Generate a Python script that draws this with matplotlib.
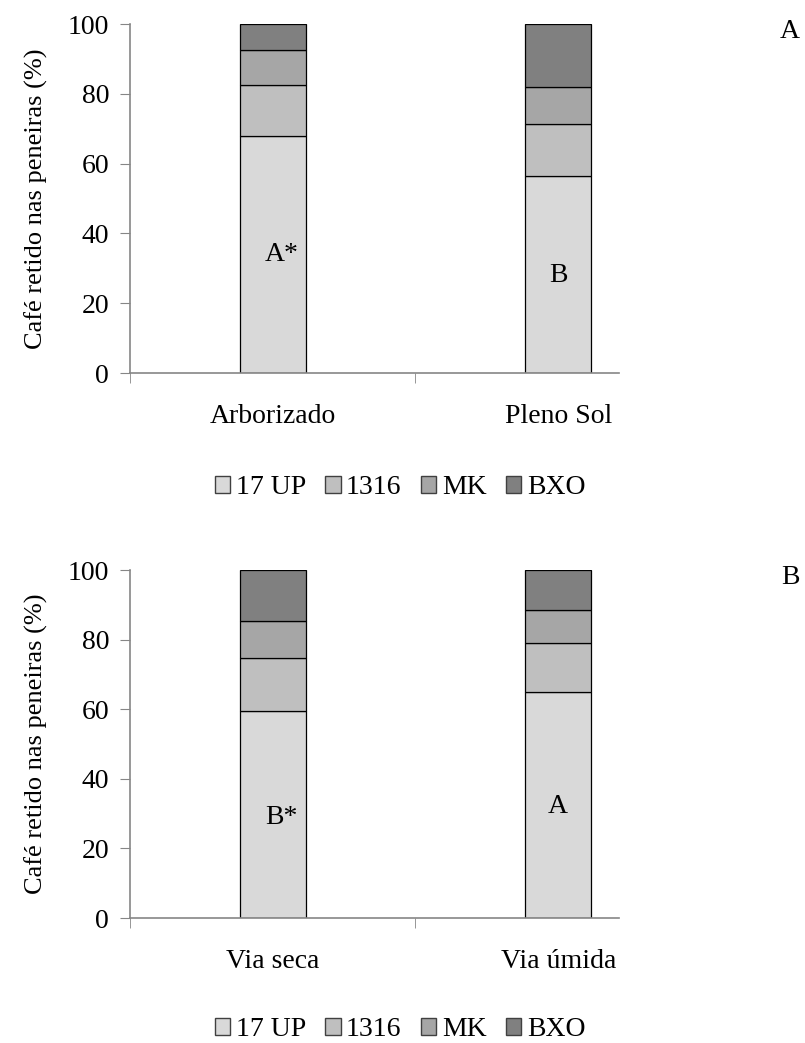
import numpy as np
import matplotlib
matplotlib.use('Agg')
import matplotlib.pyplot as plt
from matplotlib.patches import Patch

plt.rcParams['font.family'] = ['Liberation Serif', 'DejaVu Serif']

series = ['17 UP', '1316', 'MK', 'BXO']
colors = ['#d9d9d9', '#bfbfbf', '#a6a6a6', '#808080']

cats_a = ['Arborizado', 'Pleno Sol']
vals_a = {'17 UP': [67.9, 56.4], '1316': [14.6, 14.9], 'MK': [10.0, 10.6], 'BXO': [7.5, 18.1]}
letters_a = ['A*', 'B']
letter_y_a = [34, 28]

cats_b = ['Via seca', 'Via úmida']
vals_b = {'17 UP': [59.5, 64.9], '1316': [15.3, 14.0], 'MK': [10.6, 9.5], 'BXO': [14.6, 11.6]}
letters_b = ['B*', 'A']
letter_y_b = [29, 32]

W, H = 805, 1043
fig = plt.figure(figsize=(W / 100, H / 100), dpi=100)


def panel(top_px, bottom_px, cats, vals, letters, letter_y, legend_y, tag):
    ax = fig.add_axes([130 / W, 1 - bottom_px / H, 489 / W, (bottom_px - top_px) / H])
    x = np.arange(len(cats))
    base = np.zeros(len(cats))
    for s, c in zip(series, colors):
        v = np.array(vals[s])
        ax.bar(x, v, 0.23, bottom=base, color=c, edgecolor='black', linewidth=0.9, label=s)
        base += v
    # letras de comparacao de medias
    for xi, (lab, ly) in enumerate(zip(letters, letter_y)):
        dx = 0.03 if '*' in lab else 0
        ax.text(xi + dx, ly, lab, ha='center', va='center', fontsize=20)
    ax.set_xlim(-0.5, 1.213)
    ax.set_ylim(0, 100)
    ax.set_yticks(range(0, 101, 20))
    ax.set_xticks(x)
    ax.set_xticklabels(cats)
    ax.set_xticks([-0.5, 0.5], minor=True)
    ax.tick_params(axis='x', which='major', length=0, pad=22, labelsize=20)
    ax.tick_params(axis='x', which='minor', length=7, color='#868686', direction='out')
    ax.tick_params(axis='y', length=7, color='#868686', labelsize=20, pad=8)
    for sp in ['top', 'right']:
        ax.spines[sp].set_visible(False)
    for sp in ['left', 'bottom']:
        ax.spines[sp].set_color('#868686')
        ax.spines[sp].set_linewidth(1.2)
    ax.set_ylabel('Café retido nas peneiras (%)', fontsize=19, labelpad=14)
    handles = [Patch(facecolor=c, edgecolor='#404040', label=s) for s, c in zip(series, colors)]
    fig.legend(handles=handles, loc='center', bbox_to_anchor=(400 / W, 1 - legend_y / H), ncol=4,
               frameon=False, fontsize=20, handlelength=0.55, handleheight=0.55,
               handletextpad=0.2, columnspacing=0.7)
    fig.text(790 / W, 1 - (top_px + 8) / H, tag, ha='center', va='center', fontsize=20)
    return ax


panel(24, 373, cats_a, vals_a, letters_a, letter_y_a, 488, 'A')
panel(570, 918, cats_b, vals_b, letters_b, letter_y_b, 1030, 'B')

fig.savefig('out.png', dpi=100)
